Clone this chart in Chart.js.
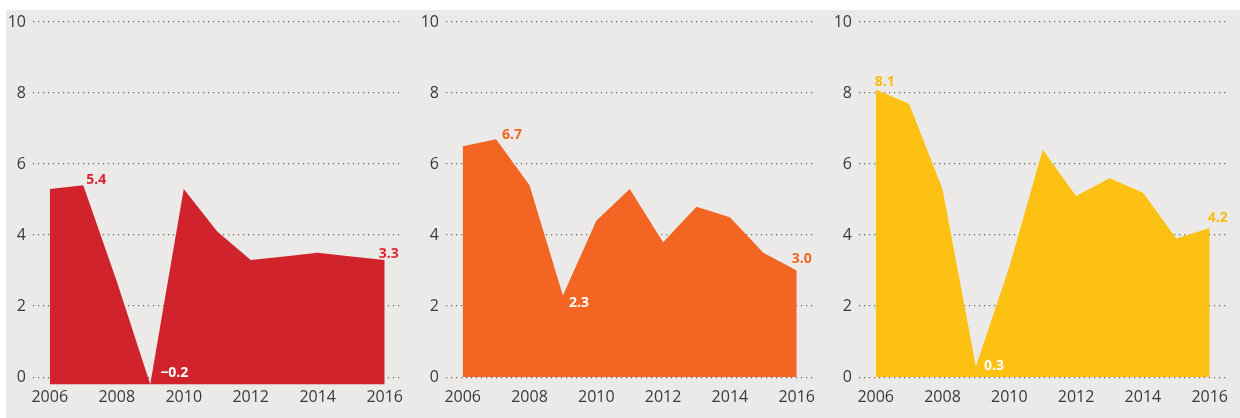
<!DOCTYPE html>
<html>
<head>
<meta charset="utf-8">
<script src="https://cdn.jsdelivr.net/npm/chart.js@4.4.1/dist/chart.umd.min.js"></script>
<style>
  body { margin: 0; background: #fff; }
  #fondo { position: absolute; left: 6px; top: 10px; width: 1234px; height: 408px; background: #ebeae8; }
  canvas { position: absolute; top: 0; }
</style>
</head>
<body>
<div id="fondo"></div>
<canvas id="grafico-vermelho" width="405" height="418" style="left:0px"></canvas>
<canvas id="grafico-laranja" width="404" height="418" style="left:413px"></canvas>
<canvas id="grafico-amarelo" width="404" height="418" style="left:826px"></canvas>
<script>
// Dados
var anos = [2006, 2007, 2008, 2009, 2010, 2011, 2012, 2013, 2014, 2015, 2016];
var dadosVermelho = [5.3, 5.4, 2.7, -0.2, 5.3, 4.1, 3.3, 3.4, 3.5, 3.4, 3.3];
var dadosLaranja = [6.5, 6.7, 5.4, 2.3, 4.4, 5.3, 3.8, 4.8, 4.5, 3.5, 3.0];
var dadosAmarelo = [8.1, 7.7, 5.3, 0.3, 3.1, 6.4, 5.1, 5.6, 5.2, 3.9, 4.2];
var ticksX = [2006, 2008, 2010, 2012, 2014, 2016];
var ticksY = [0, 2, 4, 6, 8, 10];

var fonte = "'Open Sans', 'Noto Sans', sans-serif";

function formatar(v) {
  return v < 0 ? "\u2212" + Math.abs(v).toFixed(1) : v.toFixed(1);
}

// plugin para os rótulos dos pontos
var rotulosPlugin = {
  id: "rotulos",
  afterDatasetsDraw: function (chart, args, opts) {
    var ctx = chart.ctx;
    var meta = chart.getDatasetMeta(0);
    var valores = chart.data.datasets[0].data;
    ctx.save();
    ctx.font = "bold 14px " + fonte;
    ctx.textBaseline = "middle";
    ctx.textAlign = "left";
    (opts.itens || []).forEach(function (it) {
      var p = meta.data[it.indice];
      ctx.fillStyle = it.cor;
      ctx.fillText(formatar(valores[it.indice]), p.x + it.dx, p.y + it.dy);
    });
    ctx.restore();
  },
};

function criarGrafico(id, dados, cor, itens) {
  var ctx = document.getElementById(id).getContext("2d");
  return new Chart(ctx, {
    type: "line",
    data: {
      labels: anos,
      datasets: [
        {
          data: dados,
          backgroundColor: cor,
          borderWidth: 0,
          pointRadius: 0,
          tension: 0,
          fill: { value: Math.min(0, Math.min.apply(null, dados)) },
        },
      ],
    },
    plugins: [rotulosPlugin],
    options: {
      responsive: false,
      animation: false,
      layout: { padding: { top: 22, right: 0, left: 0, bottom: 0 } },
      plugins: {
        legend: { display: false },
        tooltip: { enabled: false },
        rotulos: { itens: itens },
      },
      scales: {
        x: {
          type: "category",
          offset: true,
          grid: { display: false, drawTicks: false },
          border: { display: false },
          afterFit: function (axis) {
            axis.height = 32;
          },
          ticks: {
            autoSkip: false,
            maxRotation: 0,
            padding: 2,
            color: "#3a3a3a",
            font: { family: fonte, size: 16 },
            callback: function (value, index) {
              return ticksX.indexOf(anos[index]) >= 0 ? String(anos[index]) : null;
            },
          },
        },
        y: {
          min: -0.25,
          max: 10,
          afterFit: function (axis) {
            axis.width = 33;
          },
          afterBuildTicks: function (axis) {
            axis.ticks = ticksY.map(function (v) {
              return { value: v };
            });
          },
          grid: { color: "#666666", lineWidth: 1.2, drawTicks: false },
          border: { display: false, dash: [1.2, 3.8] },
          ticks: {
            padding: 7,
            color: "#3a3a3a",
            font: { family: fonte, size: 16 },
          },
        },
      },
    },
  });
}

criarGrafico("grafico-vermelho", dadosVermelho, "#d0232b", [
  { indice: 1, dx: 3, dy: -5, cor: "#d9272e" },
  { indice: 3, dx: 10, dy: -11, cor: "#ffffff" },
  { indice: 10, dx: -6, dy: -6, cor: "#d9272e" },
]);

criarGrafico("grafico-laranja", dadosLaranja, "#f26522", [
  { indice: 1, dx: 6, dy: -4, cor: "#f26522" },
  { indice: 3, dx: 6, dy: 8, cor: "#ffffff" },
  { indice: 10, dx: -5, dy: -12, cor: "#f26522" },
]);

criarGrafico("grafico-amarelo", dadosAmarelo, "#fdc114", [
  { indice: 0, dx: -1, dy: -7, cor: "#fdbb12" },
  { indice: 3, dx: 8, dy: 0, cor: "#ffffff" },
  { indice: 10, dx: -2, dy: -10, cor: "#fdbb12" },
]);
</script>
</body>
</html>
